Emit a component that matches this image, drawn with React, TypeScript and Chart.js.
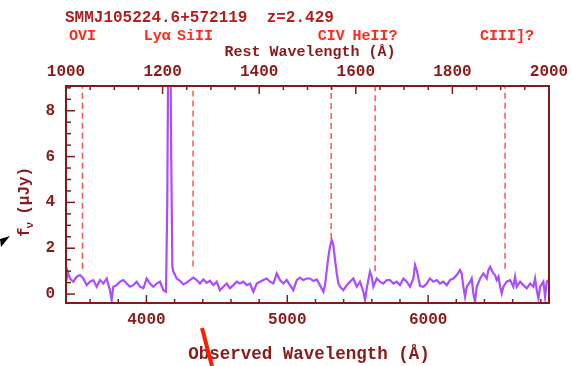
import React, { useEffect, useRef } from "react";
import { Chart, registerables } from "chart.js";

Chart.register(...registerables);

const REDSHIFT = 2.429;
const TITLE = "SMMJ105224.6+572119  z=2.429";
const REST_MIN = 1000;
const REST_MAX = 2000;
const Y_MIN = -0.39;
const Y_MAX = 9.08;

const wavelength = [
  3432, 3440, 3457, 3481, 3505, 3528, 3552, 3576, 3599, 3623, 3647, 3670, 3694, 3718, 3741, 3753,
  3765, 3789, 3812, 3836, 3860, 3883, 3907, 3931, 3954, 3978, 4002, 4025, 4049, 4073, 4096, 4120,
  4139, 4148, 4156, 4166, 4176, 4184, 4191, 4215, 4238, 4262, 4286, 4309, 4333, 4357, 4380, 4404,
  4428, 4451, 4475, 4499, 4522, 4546, 4570, 4593, 4617, 4641, 4664, 4688, 4712, 4735, 4759, 4783,
  4806, 4830, 4854, 4877, 4901, 4925, 4948, 4972, 4996, 5019, 5043, 5067, 5090, 5114, 5138, 5161,
  5185, 5209, 5232, 5256, 5268, 5280, 5292, 5303, 5315, 5327, 5339, 5351, 5363, 5374, 5398, 5422,
  5445, 5469, 5493, 5516, 5540, 5552, 5564, 5587, 5599, 5611, 5635, 5658, 5682, 5706, 5729, 5753,
  5777, 5800, 5824, 5848, 5871, 5895, 5907, 5919, 5943, 5966, 5990, 6013, 6037, 6061, 6084, 6108,
  6132, 6155, 6179, 6203, 6226, 6238, 6250, 6262, 6274, 6298, 6309, 6321, 6333, 6345, 6369, 6392,
  6416, 6428, 6440, 6451, 6463, 6475, 6487, 6499, 6511, 6522, 6534, 6558, 6582, 6605, 6617, 6629,
  6653, 6676, 6700, 6724, 6747, 6759, 6771, 6783, 6795, 6818, 6830, 6842, 6856,
];

const flux = [
  0.6, 0.98, 0.68, 0.54, 0.76, 0.83, 0.68, 0.39, 0.54, 0.61, 0.32, 0.61, 0.46, 0.68, 0.17, -0.26,
  0.32, 0.39, 0.54, 0.61, 0.46, 0.32, 0.39, 0.54, 0.32, 0.25, 0.68, 0.46, 0.32, 0.46, 0.54, 0.17,
  0.1, 4.0, 12, 14, 6, 1.2, 0.98, 0.68, 0.58, 0.42, 0.5, 0.61, 0.72, 0.61, 0.46, 0.64,
  0.49, 0.58, 0.39, 0.54, 0.17, 0.32, 0.46, 0.25, 0.39, 0.54, 0.46, 0.54, 0.39, 0.46, 0.1, 0.46,
  0.54, 0.61, 0.68, 0.54, 0.46, 0.9, 0.61, 0.46, 0.61, 0.39, 0.17, 0.61, 0.72, 0.61, 0.68, 0.68,
  0.57, 0.64, 0.39, 0.1, 0.39, 1.05, 1.63, 2.07, 2.36, 2.14, 1.49, 0.9, 0.46, 0.32, 0.17, 0.39,
  0.54, 0.68, 0.32, 0.54, 0.1, -0.26, 0.25, 0.98, 0.76, 0.32, 0.68, 0.54, 0.46, 0.61, 0.61, 0.46,
  0.54, 0.39, 0.68, 0.54, 0.32, 0.68, 1.27, 1.05, 0.35, 0.32, 0.46, 0.68, 0.54, 0.61, 0.46, 0.54,
  0.39, 0.61, 0.68, 0.83, 1.05, 0.9, 0.32, -0.12, 0.32, 0.54, 0.68, 0.03, -0.33, 0.32, 0.68, 0.9,
  0.68, 1.05, 1.19, 1.05, 0.9, 0.83, 0.61, 0.76, 0.32, 0.03, 0.32, 0.54, 0.61, 0.32, 0.76, 0.32,
  0.54, 0.39, 0.25, 0.46, 0.32, 0.68, 0.17, -0.19, 0.32, 0.54, -0.12, 0.54, 0.61,
];

const lineNames = ["OVI", "Lyα", "SiII", "CIV", "HeII?", "CIII]?"];
const lineRest = [1034, 1216, 1263, 1549, 1640, 1909];
const lineLabelShift = [0, -13, 2, 0, 0, 2];

const dashedRest = [1034, 1263, 1549, 1640, 1909];
const dashedLow = [1.1, 1.2, 2.4, 1.0, 1.1];

const obsTicks = [4000, 5000, 6000];
const restTicks = [1000, 1200, 1400, 1600, 1800, 2000];
const fluxTicks = [0, 2, 4, 6, 8];

const AXIS = "#7f1d1d";
const LABEL = "#8b1a1a";
const TITLE_COL = "#b01e1e";
const LINE_LABEL = "#ff2a1a";
const SPEC = "#a94dff";
const DASH = "rgba(255,70,55,0.9)";
const FONT = '"Liberation Mono", monospace';

const overlay = {
  id: "overlay",
  afterDatasetsDraw(chart: any) {
    const { ctx, chartArea: a, scales } = chart;
    const sx = scales.x;
    const st = scales.xTop;
    const sy = scales.y;
    ctx.save();
    ctx.strokeStyle = AXIS;
    ctx.lineWidth = 1.5;
    const seg = (x1: number, y1: number, x2: number, y2: number) => {
      ctx.beginPath();
      ctx.moveTo(x1, y1);
      ctx.lineTo(x2, y2);
      ctx.stroke();
    };
    for (let v = 3600; v < sx.max; v += 200) {
      const px = sx.getPixelForValue(v);
      seg(px, a.bottom, px, a.bottom - (v % 1000 === 0 ? 8 : 4));
    }
    for (let v = 1050; v < REST_MAX; v += 50) {
      const px = st.getPixelForValue(v);
      seg(px, a.top, px, a.top + (v % 200 === 0 ? 8 : 4));
    }
    for (let k = 0; k * 0.5 < Y_MAX; k++) {
      const py = sy.getPixelForValue(k * 0.5);
      seg(a.left, py, a.left + (k % 4 === 0 ? 9 : 5), py);
    }
    ctx.lineWidth = 2;
    ctx.strokeRect(a.left, a.top, a.right - a.left, a.bottom - a.top);

    // texts
    ctx.textBaseline = "middle";
    ctx.font = `bold 16px ${FONT}`;
    ctx.fillStyle = TITLE_COL;
    ctx.textAlign = "left";
    ctx.fillText(TITLE, 65, 18);

    ctx.font = `bold 15px ${FONT}`;
    ctx.fillStyle = LINE_LABEL;
    ctx.textAlign = "center";
    lineNames.forEach((n, i) => {
      const px = sx.getPixelForValue(lineRest[i] * (1 + REDSHIFT)) + lineLabelShift[i];
      ctx.fillText(n, px, 36);
    });

    ctx.fillStyle = LABEL;
    ctx.font = `bold 15px ${FONT}`;
    ctx.fillText("Rest Wavelength (Å)", 310, 52);
    ctx.font = `bold 17.5px ${FONT}`;
    ctx.fillText("Observed Wavelength (Å)", 309, 355);

    ctx.save();
    ctx.translate(25, 201);
    ctx.rotate(-Math.PI / 2);
    ctx.textAlign = "left";
    ctx.font = `bold 16px ${FONT}`;
    const full = 72;
    let cx = -full / 2;
    ctx.fillText("f", cx, 0);
    cx += ctx.measureText("f").width;
    ctx.font = `bold 11px ${FONT}`;
    ctx.fillText("ν", cx - 1, 5);
    cx += ctx.measureText("ν").width + 2;
    ctx.font = `bold 16px ${FONT}`;
    ctx.fillText("(μJy)", cx + 4, 0);
    ctx.restore();

    // annotation marks present in the picture
    ctx.fillStyle = "#000";
    ctx.beginPath();
    ctx.moveTo(0, 239);
    ctx.lineTo(10, 236);
    ctx.lineTo(1, 247);
    ctx.closePath();
    ctx.fill();
    ctx.strokeStyle = "#ff1e00";
    ctx.lineWidth = 4;
    seg(202, 328, 212, 366);
    ctx.restore();
  },
};

export default function App() {
  const ref = useRef<HTMLCanvasElement | null>(null);
  useEffect(() => {
    if (!ref.current) return;
    const zf = 1 + REDSHIFT;
    const datasets: any[] = [
      {
        data: wavelength.map((w, i) => ({ x: w, y: flux[i] })),
        borderColor: SPEC,
        borderWidth: 2.2,
        pointRadius: 0,
        tension: 0,
      },
      ...dashedRest.map((r, i) => ({
        data: [
          { x: r * zf, y: dashedLow[i] },
          { x: r * zf, y: Y_MAX },
        ],
        borderColor: DASH,
        borderWidth: 1.5,
        borderDash: [6, 4],
        pointRadius: 0,
      })),
    ];
    const tickFont = { family: FONT, size: 16, weight: "bold" as const };
    const noGrid = { display: false, drawTicks: false };
    const chart = new Chart(ref.current, {
      type: "line",
      data: { datasets },
      plugins: [overlay],
      options: {
        animation: false,
        responsive: false,
        events: [],
        layout: { padding: { left: 0, right: 24, top: 0, bottom: 0 } },
        plugins: { legend: { display: false }, tooltip: { enabled: false } },
        scales: {
          x: {
            type: "linear",
            position: "bottom",
            min: REST_MIN * zf,
            max: REST_MAX * zf,
            grid: noGrid,
            border: { display: false },
            afterBuildTicks: (s: any) => {
              s.ticks = obsTicks.map((v) => ({ value: v }));
            },
            afterFit: (s: any) => {
              s.height = 63;
            },
            ticks: {
              color: LABEL,
              font: tickFont,
              padding: 7,
              maxRotation: 0,
              autoSkip: false,
              callback: (v: any) => String(v),
            },
          },
          xTop: {
            type: "linear",
            position: "top",
            min: REST_MIN,
            max: REST_MAX,
            grid: noGrid,
            border: { display: false },
            afterBuildTicks: (s: any) => {
              s.ticks = restTicks.map((v) => ({ value: v }));
            },
            afterFit: (s: any) => {
              s.height = 86;
            },
            ticks: {
              color: LABEL,
              font: tickFont,
              padding: 4,
              maxRotation: 0,
              autoSkip: false,
              callback: (v: any) => String(v),
            },
          },
          y: {
            type: "linear",
            position: "left",
            min: Y_MIN,
            max: Y_MAX,
            grid: noGrid,
            border: { display: false },
            afterBuildTicks: (s: any) => {
              s.ticks = fluxTicks.map((v) => ({ value: v }));
            },
            afterFit: (s: any) => {
              s.width = 66;
            },
            ticks: {
              color: LABEL,
              font: tickFont,
              padding: 11,
              autoSkip: false,
              callback: (v: any) => String(v),
            },
          },
        },
      },
    });
    return () => chart.destroy();
  }, []);
  return (
    <div style={{ position: "fixed", left: 0, top: 0, width: 573, height: 366, background: "#fff" }}>
      <canvas ref={ref} width={573} height={366} style={{ display: "block" }} />
    </div>
  );
}
